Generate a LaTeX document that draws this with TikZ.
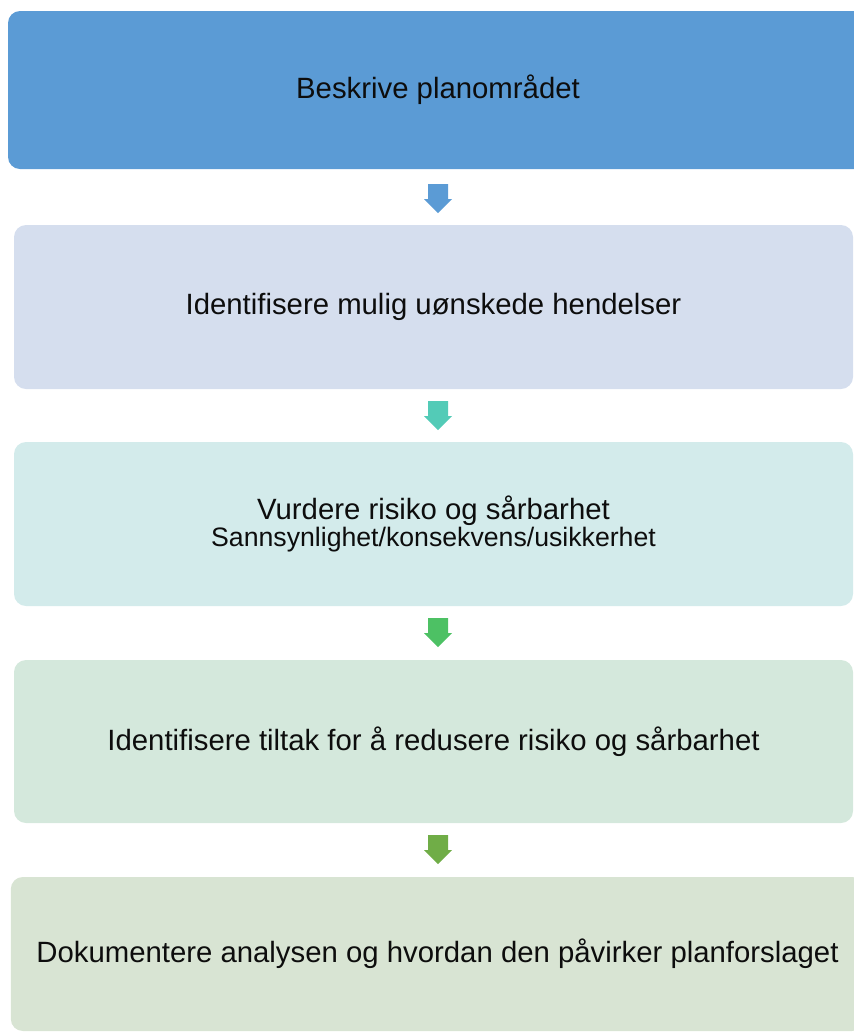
\documentclass[tikz,border=0pt]{standalone}
\usepackage{fontspec}
\setmainfont{Liberation Sans}
\definecolor{blueA}{HTML}{5B9BD5}
\definecolor{blueB}{HTML}{D5DEEE}
\definecolor{tealB}{HTML}{D3EBEB}
\definecolor{greenB}{HTML}{D4E8DC}
\definecolor{oliveB}{HTML}{D8E4D3}
\definecolor{tealA}{HTML}{53CBB7}
\definecolor{greenA}{HTML}{4DC164}
\definecolor{oliveA}{HTML}{70AD47}
\newcommand{\stagetext}[2]{#1\\{\fontsize{20}{20}\selectfont #2}}

\begin{document}
\begin{tikzpicture}[x=0.75pt,y=-0.75pt]
  \tikzset{stage/.style={rectangle, rounded corners=9pt, inner sep=0pt, text=black!95, align=center,
                         font=\fontsize{22}{20}\selectfont, minimum width=629.25pt, minimum height=123pt},
           blockarrow/.pic={\fill[pic actions] (-10,0) -- (10,0) -- (10,15) -- (14,15) -- (0,29)
                                               -- (-14,15) -- (-10,15) -- cycle;}}
  \useasboundingbox (0,0) rectangle (854,1033);

  \node[stage, fill=blueA, minimum width=645pt, minimum height=118.5pt] (desc) at (438,90) {Beskrive planområdet};
  \node[stage, fill=blueB] (ident) at (433.5,307) {Identifisere mulig uønskede hendelser};
  \node[stage, fill=tealB] (vurd) at (433.5,524) {\stagetext{Vurdere risiko og sårbarhet}{Sannsynlighet/konsekvens/usikkerhet}};
  \node[stage, fill=greenB, minimum height=122.25pt] (tiltak) at (433.5,741.5) {Identifisere tiltak for å redusere risiko og sårbarhet};
  \node[stage, fill=oliveB, minimum width=640pt, minimum height=115.5pt] (dok) at (437.5,954) {Dokumentere analysen og hvordan den påvirker planforslaget};

  \pic[fill=blueA] (a1) at (438,184) {blockarrow};
  \pic[fill=tealA] (a2) at (438,401) {blockarrow};
  \pic[fill=greenA] (a3) at (438,618) {blockarrow};
  \pic[fill=oliveA] (a4) at (438,835) {blockarrow};

\end{tikzpicture}
\end{document}
